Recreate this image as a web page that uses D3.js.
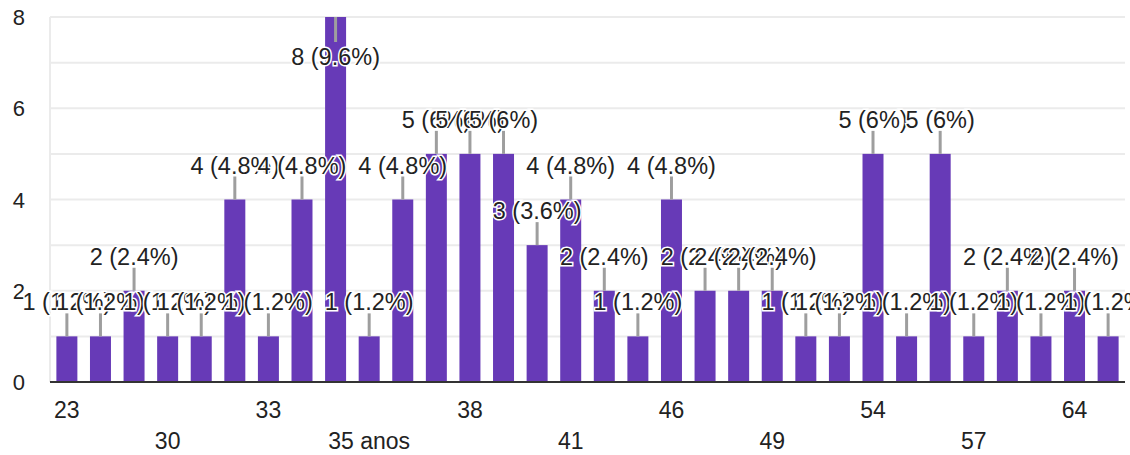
<!DOCTYPE html>
<html>
<head>
<meta charset="utf-8">
<script src="https://cdn.jsdelivr.net/npm/d3@7"></script>
<style>
  body { margin: 0; background: #fff; }
  text { font-family: "Liberation Sans", Arial, sans-serif; }
</style>
</head>
<body>
<svg id="chart" width="1130" height="455"></svg>
<script>
// ages (answers) and number of responses per answer
const categories = ["23","25","28","30","31","32","33","34","35","35 anos","36","37","38","39","40","41",
                    "42","44","46","47","48","49","50","52","54","55","56","57","59","60","64","65"];
const counts = [1,1,2,1,1,4,1,4,8,1,4,5,5,5,3,4,2,1,4,2,2,2,1,1,5,1,5,1,2,1,2,1];
const yTicks = [0, 2, 4, 6, 8];

const width = 1130, height = 455;
const plotLeft = 50, plotRight = 1125, plotTop = 17, plotBottom = 382;

const svg = d3.select('#chart');
const total = d3.sum(counts);

const x = d3.scaleBand()
    .domain(categories)
    .range([plotLeft, plotRight])
    .paddingInner(0.375)
    .paddingOuter(0.19);

const y = d3.scaleLinear()
    .domain([0, 8])
    .range([plotBottom, plotTop]);

// gridlines, one per unit
svg.append('g')
    .selectAll('line')
    .data(d3.range(1, 9))
    .join('line')
    .attr('x1', plotLeft)
    .attr('x2', plotRight)
    .attr('y1', d => y(d))
    .attr('y2', d => y(d))
    .attr('stroke', '#ebebeb')
    .attr('stroke-width', 2);

svg.append('line')
    .attr('x1', plotLeft).attr('x2', plotLeft)
    .attr('y1', plotTop).attr('y2', plotBottom)
    .attr('stroke', '#ebebeb')
    .attr('stroke-width', 2);

// y labels
svg.append('g')
    .selectAll('text')
    .data(yTicks)
    .join('text')
    .attr('x', 25)
    .attr('y', d => y(d) + 8)
    .attr('text-anchor', 'end')
    .attr('font-size', 22)
    .attr('fill', '#222')
    .text(d => d);

// bars
svg.append('g')
    .selectAll('rect')
    .data(counts)
    .join('rect')
    .attr('x', (d, i) => x(categories[i]))
    .attr('width', x.bandwidth())
    .attr('y', d => y(d))
    .attr('height', d => plotBottom - y(d))
    .attr('fill', '#673ab7');

// baseline
svg.append('line')
    .attr('x1', plotLeft).attr('x2', plotRight)
    .attr('y1', plotBottom).attr('y2', plotBottom)
    .attr('stroke', '#333')
    .attr('stroke-width', 2);

// x labels: every third category, on two alternating rows
svg.append('g')
    .selectAll('text')
    .data(categories.filter((c, i) => i % 3 == 0))
    .join('text')
    .attr('x', d => x(d) + x.bandwidth() / 2)
    .attr('y', (d, i) => i % 2 == 0 ? 418 : 449)
    .attr('text-anchor', 'middle')
    .attr('font-size', 23)
    .attr('fill', '#222')
    .text(d => d);

// annotations: stem + "n (p%)", drawn in order so later ones cover earlier ones
function pct(v) {
    return Math.round(v / total * 1000) / 10;
}

const ann = svg.append('g');
counts.forEach(function(v, i) {
    const cx = x(categories[i]) + x.bandwidth() / 2;
    const t = y(v);
    const flip = t - 35 < 0;
    const stemEnd = flip ? t + 25 : t - 23;
    const base = flip ? t + 48 : t - 26;
    ann.append('line')
        .attr('x1', cx).attr('x2', cx)
        .attr('y1', t).attr('y2', stemEnd)
        .attr('stroke', '#9e9e9e')
        .attr('stroke-width', 3);
    ann.append('text')
        .attr('x', cx)
        .attr('y', base)
        .attr('text-anchor', 'middle')
        .attr('font-size', 23.5)
        .attr('fill', '#222')
        .attr('stroke', '#fff')
        .attr('stroke-width', 3)
        .attr('paint-order', 'stroke')
        .text(v + ' (' + pct(v) + '%)');
});
</script>
</body>
</html>
